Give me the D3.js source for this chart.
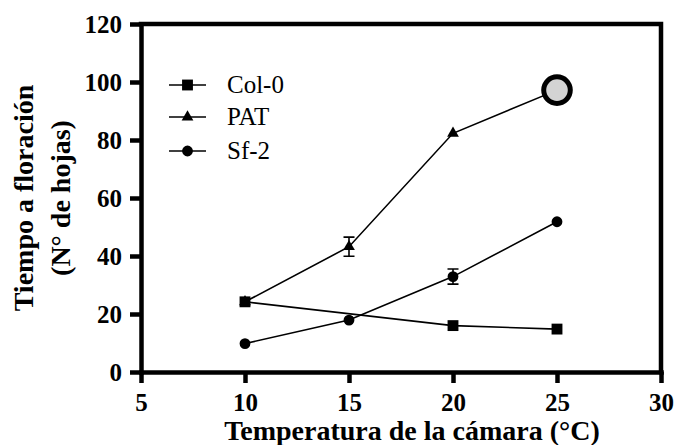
<!DOCTYPE html>
<html>
<head>
<meta charset="utf-8">
<script src="https://cdn.jsdelivr.net/npm/d3@7"></script>
<style>
  html, body { margin: 0; padding: 0; background: #fff; }
  svg { display: block; }
  svg text { font-family: "Liberation Serif", "Times New Roman", Times, serif; }
</style>
</head>
<body>
<svg id="chart" width="674" height="445"></svg>
<script>
// Flowering time (leaf number) versus growth-chamber temperature
const temperatures = [10, 15, 20, 25];
const col0Temps = [10, 20, 25];
const col0Values = [24.2, 16.0, 14.8];
const patValues = [24.2, 43.2, 82.3, 97.2];
const patErrors = [0, 3.3, 0, 0];
const sf2Values = [9.8, 17.9, 32.9, 51.8];
const sf2Errors = [0, 0, 2.6, 0];
const xTicks = [5, 10, 15, 20, 25, 30];
const yTicks = [0, 20, 40, 60, 80, 100, 120];
const seriesNames = ["Col-0", "PAT", "Sf-2"];
const highlighted = { temp: 25, value: 97.2 };

const svg = d3.select("#chart");
const serif = "Liberation Serif";

const x = d3.scaleLinear().domain([5, 30]).range([141, 661]);
const y = d3.scaleLinear().domain([0, 120]).range([372, 24]);

const axisW = 4.5;

// Axes
const gx = svg.append("g").attr("transform", `translate(0,${y(0)})`)
  .call(d3.axisBottom(x).tickValues(xTicks).tickSize(11).tickSizeOuter(0).tickPadding(10));
const gy = svg.append("g").attr("transform", `translate(${x(5)},0)`)
  .call(d3.axisLeft(y).tickValues(yTicks).tickSize(11).tickSizeOuter(0).tickPadding(8));

[gx, gy].forEach(g => {
  g.attr("font-family", serif).attr("font-size", 25);
  g.select(".domain").attr("stroke", "#000").attr("stroke-width", axisW).attr("stroke-linecap", "square");
  g.selectAll(".tick line").attr("stroke", "#000").attr("stroke-width", axisW);
  g.selectAll(".tick text")
    .attr("fill", "#000")
    .attr("font-family", serif)
    .attr("font-weight", "bold")
    .attr("font-size", 25);
});
gy.selectAll(".tick text").attr("dy", "0.34em");
gx.selectAll(".tick text").attr("dy", "0.72em");

// Closing frame (top and right)
svg.append("path")
  .attr("d", `M${x(5)},${y(120)}H${x(30)}V${y(0)}`)
  .attr("fill", "none")
  .attr("stroke", "#000")
  .attr("stroke-width", axisW)
  .attr("stroke-linecap", "square")
  .attr("stroke-linejoin", "miter");

// Axis titles
svg.append("text")
  .attr("x", 412).attr("y", 440)
  .attr("text-anchor", "middle")
  .attr("font-family", serif).attr("font-weight", "bold").attr("font-size", 28)
  .text("Temperatura de la cámara (°C)");

const yTitle = svg.append("text")
  .attr("transform", "translate(0,198) rotate(-90)")
  .attr("text-anchor", "middle")
  .attr("font-family", serif).attr("font-weight", "bold").attr("font-size", 28);
yTitle.append("tspan").attr("x", 0).attr("y", 33).text("Tiempo a floración");
yTitle.append("tspan").attr("x", 0).attr("y", 70).text("(N° de hojas)");

// Marker shapes
const square = d3.symbol().type(d3.symbolSquare).size(118);
const triangle = d3.symbol().type(d3.symbolTriangle).size(60);
const circle = d3.symbol().type(d3.symbolCircle).size(92);

const line = d3.line().x(d => x(d[0])).y(d => y(d[1]));

function drawSeries(temps, values, errors, shape) {
  const pts = temps.map((t, i) => [t, values[i], errors ? errors[i] : 0]);
  svg.append("path").datum(pts)
    .attr("d", line)
    .attr("fill", "none").attr("stroke", "#000").attr("stroke-width", 1.6);
  const eb = svg.append("g");
  pts.filter(p => p[2] > 0).forEach(p => {
    const cx = x(p[0]);
    eb.append("path")
      .attr("d", `M${cx - 5.5},${y(p[1] + p[2])}H${cx + 5.5}M${cx},${y(p[1] + p[2])}V${y(p[1] - p[2])}M${cx - 5.5},${y(p[1] - p[2])}H${cx + 5.5}`)
      .attr("fill", "none").attr("stroke", "#000").attr("stroke-width", 1.6);
  });
  svg.append("g").selectAll("path").data(pts).join("path")
    .attr("transform", d => `translate(${x(d[0])},${y(d[1])})`)
    .attr("d", shape)
    .attr("fill", "#000");
}

drawSeries(temperatures, patValues, patErrors, triangle);
drawSeries(temperatures, sf2Values, sf2Errors, circle);
drawSeries(col0Temps, col0Values, null, square);

// Highlighted point
svg.append("circle")
  .attr("cx", x(highlighted.temp)).attr("cy", y(highlighted.value))
  .attr("r", 13.3)
  .attr("fill", "#d3d3d3").attr("stroke", "#000").attr("stroke-width", 5);

// Legend
const legendShapes = [square, triangle, circle];
const legendY = [85, 117, 151];
const legend = svg.append("g");
seriesNames.forEach((name, i) => {
  const g = legend.append("g").attr("transform", `translate(0,${legendY[i]})`);
  g.append("line").attr("x1", 169).attr("x2", 206).attr("y1", 0).attr("y2", 0)
    .attr("stroke", "#000").attr("stroke-width", 1.6);
  g.append("path").attr("transform", "translate(187.5,0)").attr("d", legendShapes[i]).attr("fill", "#000");
  g.append("text").attr("x", 227).attr("y", 0).attr("dy", "0.33em")
    .attr("font-family", serif).attr("font-size", 25)
    .text(name);
});
</script>
</body>
</html>
